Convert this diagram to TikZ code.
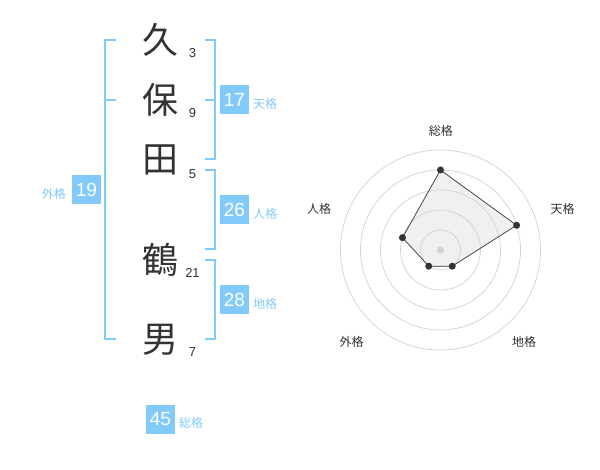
\documentclass[tikz,border=0pt]{standalone}
\usepackage{fontspec}
\setmainfont{Liberation Sans}
\newfontfamily\jpfont{Noto Sans CJK JP}
\usetikzlibrary{calc}
\definecolor{kakublue}{RGB}{130,202,250}
\definecolor{inkgray}{RGB}{51,51,51}
\definecolor{ringgray}{RGB}{210,210,210}
\definecolor{areagray}{RGB}{240,240,240}

\begin{document}
\begin{tikzpicture}[x=1pt,y=-1pt,
	kanji/.style={font=\jpfont\fontsize{36}{36}\selectfont,text=inkgray,inner sep=0pt},
	strokes/.style={font=\fontsize{13}{13}\selectfont,text=inkgray,inner sep=0pt},
	kakubox/.style={fill=kakublue,text=white,minimum width=29pt,minimum height=29pt,inner sep=0pt,font=\fontsize{19}{19}\selectfont},
	kakulabel/.style={font=\jpfont\fontsize{12}{12}\selectfont,text=kakublue,inner sep=0pt},
	bracket/.style={draw=kakublue,line width=2pt},
	axislabel/.style={font=\jpfont\fontsize{12}{12}\selectfont,text=inkgray,inner sep=0pt},
	ring/.style={draw=ringgray,line width=0.7pt},
	vertex/.style={circle,fill=inkgray,inner sep=0pt,minimum size=7pt}]

\useasboundingbox[fill=white] (0,0) rectangle (600,470);

% name
\node[kanji] (k1) at (160,40) {久};
\node[kanji] (k2) at (160,100) {保};
\node[kanji] (k3) at (160,160) {田};
\node[kanji] (k4) at (160,260) {鶴};
\node[kanji] (k5) at (160,340) {男};

\node[strokes] (s1) at (192.5,53) {3};
\node[strokes] (s2) at (192.5,113) {9};
\node[strokes] (s3) at (192.5,174) {5};
\node[strokes] (s4) at (192.5,273) {21};
\node[strokes] (s5) at (192.5,352) {7};

% brackets
\draw[bracket] (116,40) -- (105,40) -- (105,339) -- (116,339);
\draw[bracket] (105,100) -- (116,100);
\draw[bracket] (205,40) -- (215,40) -- (215,159) -- (205,159);
\draw[bracket] (205,100) -- (215,100);
\draw[bracket] (205,170) -- (215,170) -- (215,249) -- (205,249);
\draw[bracket] (205,260) -- (215,260) -- (215,339) -- (205,339);

% kaku values
\node[kakubox] (ten) at (234.5,100) {17};
\node[kakulabel,anchor=west] (tenl) at (253,104) {天格};
\node[kakubox] (jin) at (234.5,210) {26};
\node[kakulabel,anchor=west] (jinl) at (253,214) {人格};
\node[kakubox] (chi) at (234.5,300) {28};
\node[kakulabel,anchor=west] (chil) at (253,304) {地格};
\node[kakubox] (gai) at (86.5,190) {19};
\node[kakulabel,anchor=east] (gail) at (66,194) {外格};
\node[kakubox] (sou) at (160.5,419.5) {45};
\node[kakulabel,anchor=west] (soul) at (179,423) {総格};

% radar chart
\begin{scope}[shift={(440.5,250)},yscale=-1]
	\coordinate (vs) at (90:80);
	\coordinate (vt) at (18:80);
	\coordinate (vc) at (-54:20);
	\coordinate (vg) at (-126:20);
	\coordinate (vj) at (162:40);
	\fill[areagray] (vs) -- (vt) -- (vc) -- (vg) -- (vj) -- cycle;
	\foreach \r in {20,40,60,80,100}
		\draw[ring] (0,0) circle (\r);
	\fill[ringgray] (0,0) circle (3.5);
	\draw[inkgray,line width=0.7pt] (vs) -- (vt) -- (vc) -- (vg) -- (vj) -- cycle;
	\foreach \v in {vs,vt,vc,vg,vj}
		\node[vertex] at (\v) {};
\end{scope}

\node[axislabel] (as) at (440.8,130.5) {総格};
\node[axislabel] (at) at (562.5,208.7) {天格};
\node[axislabel] (ac) at (524,341.7) {地格};
\node[axislabel] (ag) at (351.7,341.7) {外格};
\node[axislabel] (aj) at (319,208.7) {人格};
\end{tikzpicture}
\end{document}
